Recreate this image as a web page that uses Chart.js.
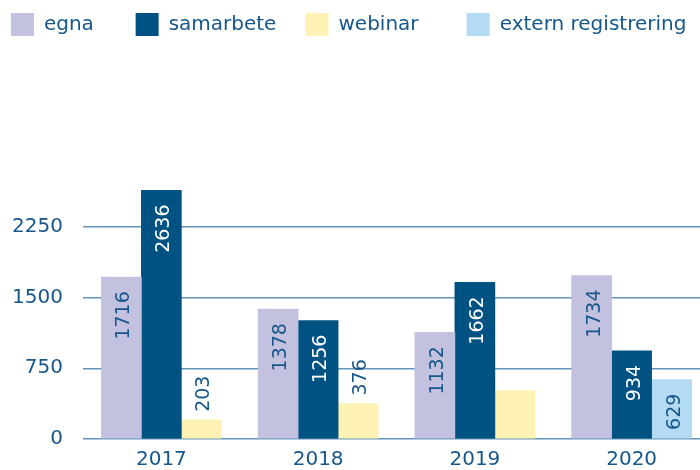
<!DOCTYPE html>
<html lang="sv">
<head>
<meta charset="UTF-8">
<title>egna, samarbete, webinar, extern registrering</title>
<script src="https://cdn.jsdelivr.net/npm/chart.js"></script>
<style>
  html, body { margin: 0; padding: 0; background: #fff; overflow: hidden; }
  .wrap { width: 710px; height: 473px; }
</style>
</head>
<body>
<div class="wrap"><canvas id="chart"></canvas></div>
<script>
// data
const years = ['2017', '2018', '2019', '2020'];
const egna = [1716, 1378, 1132, 1734];
const samarbete = [2636, 1256, 1662, 934];
const webinar = [203, 376, 513, null];
const externRegistrering = [null, null, null, 629];
const yTicks = [0, 750, 1500, 2250];
// webinar 2019 har ingen siffra i originalet
const utanEtikett = [[2, 2]]; // [dataset, index]

const textColor = '#17578a';
const font = '"DejaVu Sans", sans-serif';
// extra luft efter varje legendpost
const legendGap = [5, 3, 6, 2];

// siffror roterade i staplarna
const barLabels = {
  id: 'barLabels',
  afterDatasetsDraw(chart) {
    const ctx = chart.ctx;
    ctx.save();
    ctx.font = '19px ' + font;
    chart.data.datasets.forEach((ds, di) => {
      const meta = chart.getDatasetMeta(di);
      meta.data.forEach((bar, i) => {
        const v = ds.data[i];
        if (v == null) return;
        if (utanEtikett.some(p => p[0] === di && p[1] === i)) return;
        const text = String(v);
        const w = ctx.measureText(text).width;
        const h = bar.base - bar.y;
        const inside = h > w + 22;
        ctx.save();
        ctx.fillStyle = inside ? ds.labelColor : textColor;
        ctx.textBaseline = 'alphabetic';
        if (inside) {
          ctx.translate(bar.x + 8, bar.y + 14);
          ctx.rotate(-Math.PI / 2);
          ctx.textAlign = 'right';
        } else {
          ctx.translate(bar.x + 8, bar.y - 8);
          ctx.rotate(-Math.PI / 2);
          ctx.textAlign = 'left';
        }
        ctx.fillText(text, 0, 0);
        ctx.restore();
      });
    });
    ctx.restore();
  }
};

new Chart(document.getElementById('chart'), {
  type: 'bar',
  data: {
    labels: years,
    datasets: [
      { label: 'egna', data: egna, backgroundColor: '#c2c2e0', labelColor: textColor },
      { label: 'samarbete', data: samarbete, backgroundColor: '#005283', labelColor: '#ffffff' },
      { label: 'webinar', data: webinar, backgroundColor: '#fef3b4', labelColor: textColor },
      { label: 'extern registrering', data: externRegistrering, backgroundColor: '#b3dbf4', labelColor: textColor }
    ]
  },
  options: {
    responsive: true,
    maintainAspectRatio: false,
    animation: false,
    skipNull: true,
    barThickness: 40,
    layout: { padding: { top: 3, left: 0, right: 0, bottom: -8 } },
    plugins: {
      legend: {
        position: 'top',
        labels: {
          boxWidth: 23,
          boxHeight: 23,
          padding: 10,
          color: textColor,
          font: { family: font, size: 20 },
          generateLabels(chart) {
            const items = Chart.defaults.plugins.legend.labels.generateLabels(chart);
            items.forEach((it, i) => { it.text += '\u00a0'.repeat(legendGap[i]); });
            return items;
          }
        }
      },
      tooltip: { enabled: false }
    },
    scales: {
      x: {
        grid: { display: false, drawTicks: false },
        border: { display: false },
        ticks: { color: textColor, padding: 10, font: { family: font, size: 20, lineHeight: 1.1 } }
      },
      y: {
        min: 0,
        max: 4168,
        afterBuildTicks(scale) {
          scale.ticks = yTicks.map(v => ({ value: v }));
        },
        afterFit(scale) { scale.width = 83; },
        grid: { color: '#6293b8', lineWidth: 1.5, drawTicks: false },
        border: { display: false },
        ticks: {
          color: textColor,
          padding: 20,
          font: { family: font, size: 20 },
          callback: v => String(v)
        }
      }
    }
  },
  plugins: [barLabels]
});
</script>
</body>
</html>
